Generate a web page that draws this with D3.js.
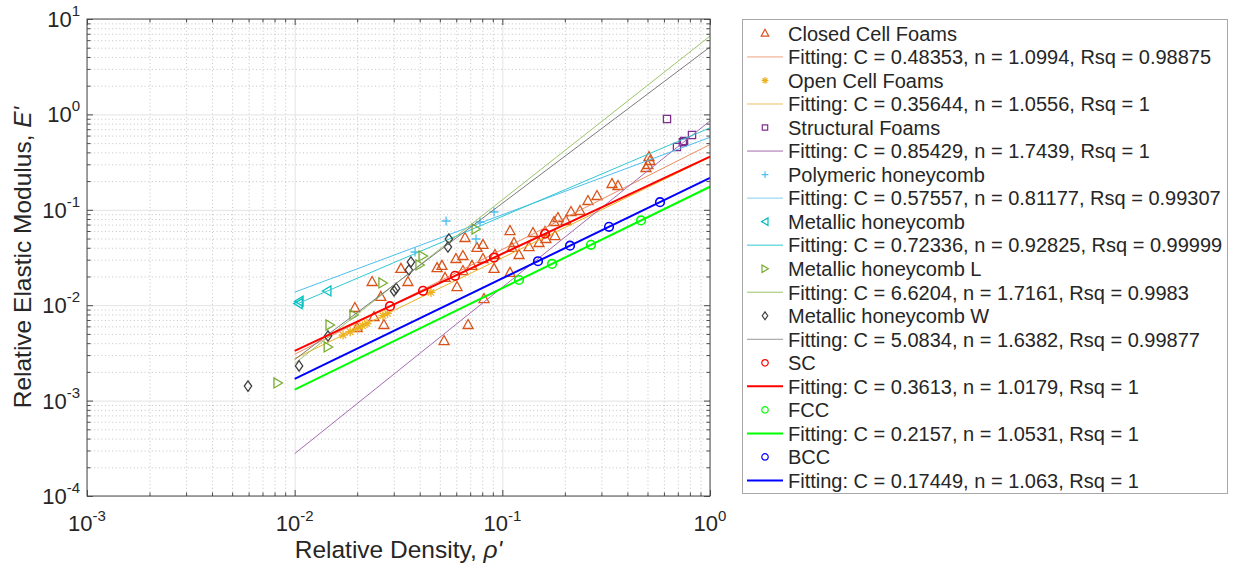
<!DOCTYPE html>
<html>
<head>
<meta charset="utf-8">
<script src="https://cdn.jsdelivr.net/npm/d3@7"></script>
<style>
  body { margin: 0; background: #fff; }
  text { font-family: "Liberation Sans", Arial, sans-serif; fill: #262626; }
</style>
</head>
<body>
<div id="chart"></div>
<script>
// ---- data (relative density, relative modulus) ----
const closedCell = [
  [0.0195,0.00935],[0.0200,0.00577],[0.0236,0.0175],[0.0241,0.00752],[0.0260,0.0122],
  [0.0269,0.0062],[0.0325,0.0240],[0.0351,0.0175],[0.0485,0.0245],[0.0512,0.0258],
  [0.0524,0.00421],[0.0530,0.0193],[0.0598,0.0305],[0.0605,0.0155],[0.0646,0.0328],
  [0.0646,0.0228],[0.0661,0.0506],[0.0684,0.0062],[0.0714,0.0258],[0.0755,0.0398],
  [0.0807,0.0428],[0.0807,0.0305],[0.0816,0.0116],[0.0912,0.0240],[0.0922,0.0336],
  [0.1089,0.0599],[0.1089,0.0218],[0.1113,0.0398],[0.1138,0.0449],[0.1203,0.0336],
  [0.1344,0.0407],[0.1405,0.0571],[0.1502,0.0449],[0.1605,0.0585],[0.1622,0.0494],
  [0.1793,0.0531],[0.1773,0.0745],[0.1853,0.0820],[0.2025,0.0763],[0.2141,0.0948],
  [0.2366,0.0971],[0.2585,0.1237],[0.2856,0.1395],[0.3374,0.1864],[0.3605,0.1776],
  [0.4916,0.2743],[0.5028,0.2948],[0.5140,0.3248],[0.5083,0.3576]
];
const openCell = [[0.0171,0.00486],[0.0185,0.00527],[0.0200,0.00572],[0.0212,0.0061],
  [0.0223,0.00643],[0.0266,0.00776],[0.0280,0.0082],[0.0453,0.01361]];
const structural = [[0.6207,0.8951],[0.6935,0.4552],[0.7400,0.5120],[0.7497,0.5262],[0.8190,0.6083]];
const polymeric = [[0.0380,0.0361],[0.0536,0.0763],[0.0747,0.0494],[0.0781,0.0745],[0.0912,0.0948]];
const metallic = [[0.0104,0.0104],[0.0105,0.0110],[0.0143,0.0141]];
const metallicL = [[0.00831,0.00153],[0.0145,0.00365],[0.0148,0.0062],[0.0193,0.0079],
  [0.0266,0.0171],[0.0401,0.0264],[0.0415,0.0328],[0.0747,0.0629]];
const metallicW = [[0.00596,0.00142],[0.0105,0.00231],[0.01447,0.00475],[0.0301,0.0141],
  [0.0308,0.0150],[0.0355,0.0234],[0.0363,0.0284],[0.0547,0.0407],[0.0553,0.0494]];
const sc = [[0.02877,0.00976],[0.0415,0.01416],[0.0592,0.0203],[0.0912,0.0316],[0.1605,0.0561]];
const fcc = [[0.1203,0.01837],[0.1734,0.0271],[0.2673,0.0429],[0.4654,0.0774]];
const bcc = [[0.1485,0.0289],[0.2118,0.0421],[0.3264,0.0663],[0.5743,0.1203]];

const seriesNames = ["Closed Cell Foams", "Open Cell Foams", "Structural Foams", "Polymeric honeycomb",
  "Metallic honeycomb", "Metallic honeycomb L", "Metallic honeycomb W", "SC", "FCC", "BCC"];
const seriesData = [closedCell, openCell, structural, polymeric, metallic, metallicL, metallicW, sc, fcc, bcc];
const markers = ["^", "*", "s", "+", "<", ">", "d", "o", "o", "o"];
const colors = ["#D95319", "#EDB120", "#7E2F8E", "#4DBEEE", "#00BFBF", "#77AC30", "#404040", "#FF0000", "#00FF00", "#0000FF"];

// power-law fits E = C * rho^n, drawn from rho = 0.01 to 1
const fitC = [0.48353, 0.35644, 0.85429, 0.57557, 0.72336, 6.6204, 5.0834, 0.3613, 0.2157, 0.17449];
const fitN = [1.0994, 1.0556, 1.7439, 0.81177, 0.92825, 1.7161, 1.6382, 1.0179, 1.0531, 1.063];
const fitRsq = [0.98875, 1, 1, 0.99307, 0.99999, 0.9983, 0.99877, 1, 1, 1];
const fitRange = [0.01, 1];
// in the original the FCC fit is drawn blue and the BCC fit green
const fitDrawColors = ["#EE8A60", "#EDB120", "#A46BB0", "#4DBEEE", "#30C8D0", "#9CC46A", "#7a7a7a", "#FF0000", "#0000FF", "#00FF00"];
const fitLegendColors = ["#F0A080", "#EDC060", "#A46BB0", "#80D0F0", "#30C8D0", "#9CC46A", "#9a9a9a", "#FF0000", "#00FF00", "#0000FF"];
const fitWidths = [1, 1, 1, 1, 1, 1, 1, 2, 2, 2];

const xTickExp = [-3, -2, -1, 0];
const yTickExp = [-4, -3, -2, -1, 0, 1];

// ---- layout ----
const width = 1234, height = 572;
const plot = {left: 87, top: 19, right: 710, bottom: 496};

const svg = d3.select("#chart").append("svg")
  .attr("width", width).attr("height", height);

const x = d3.scaleLog().domain([1e-3, 1]).range([plot.left, plot.right]);
const y = d3.scaleLog().domain([1e-4, 10]).range([plot.bottom, plot.top]);

const xMajor = xTickExp.map(e => Math.pow(10, e));
const yMajor = yTickExp.map(e => Math.pow(10, e));
function minors(majors) {
  const out = [];
  majors.slice(0, -1).forEach(m => { for (let k = 2; k <= 9; k++) out.push(m * k); });
  return out;
}
const xMinor = minors(xMajor), yMinor = minors(yMajor);
const pw = plot.right - plot.left, ph = plot.bottom - plot.top;

// grid
function grid(axis, pos, vals, size, cls) {
  const g = svg.append("g").attr("transform", pos)
    .call(axis.tickValues(vals).tickSize(size).tickFormat(""));
  g.select(".domain").remove();
  g.selectAll("line").attr("class", cls);
  return g;
}
grid(d3.axisBottom(x), `translate(0,${plot.bottom})`, xMinor, -ph, "minor");
grid(d3.axisLeft(y), `translate(${plot.left},0)`, yMinor, -pw, "minor");
grid(d3.axisBottom(x), `translate(0,${plot.bottom})`, xMajor, -ph, "major");
grid(d3.axisLeft(y), `translate(${plot.left},0)`, yMajor, -pw, "major");
svg.selectAll("line.minor").attr("stroke", "#bdbdbd").attr("stroke-dasharray", "1,2.6").attr("stroke-width", 0.9);
svg.selectAll("line.major").attr("stroke", "#e3e3e3").attr("stroke-width", 1);

// ---- markers ----
function markerPath(type, k) {
  const p = d3.path();
  switch (type) {
    case "^": p.moveTo(0, -5.5*k); p.lineTo(5*k, 3.5*k); p.lineTo(-5*k, 3.5*k); p.closePath(); break;
    case "<": p.moveTo(-4.5*k, 0); p.lineTo(4*k, -5*k); p.lineTo(4*k, 5*k); p.closePath(); break;
    case ">": p.moveTo(4.5*k, 0); p.lineTo(-4*k, -5*k); p.lineTo(-4*k, 5*k); p.closePath(); break;
    case "s": p.rect(-3.6*k, -3.6*k, 7.2*k, 7.2*k); break;
    case "d": p.moveTo(0, -5.2*k); p.lineTo(3.7*k, 0); p.lineTo(0, 5.2*k); p.lineTo(-3.7*k, 0); p.closePath(); break;
    case "+": p.moveTo(-4.5*k, 0); p.lineTo(4.5*k, 0); p.moveTo(0, -4.5*k); p.lineTo(0, 4.5*k); break;
    case "*":
      p.moveTo(-4.5*k, 0); p.lineTo(4.5*k, 0); p.moveTo(0, -4.5*k); p.lineTo(0, 4.5*k);
      p.moveTo(-3.2*k, -3.2*k); p.lineTo(3.2*k, 3.2*k); p.moveTo(-3.2*k, 3.2*k); p.lineTo(3.2*k, -3.2*k); break;
    case "o": p.arc(0, 0, 4.3*k, 0, 2 * Math.PI); break;
  }
  return p.toString();
}

const lineGen = d3.line().x(d => x(d[0])).y(d => y(d[1]));
const plotArea = svg.append("g");

seriesData.forEach((data, i) => {
  plotArea.append("g").selectAll("path")
    .data(data).enter().append("path")
    .attr("transform", d => `translate(${x(d[0])},${y(d[1])})`)
    .attr("d", markerPath(markers[i], 1))
    .attr("fill", "none")
    .attr("stroke", colors[i])
    .attr("stroke-width", markers[i] === "o" ? 1.6 : 1.3);

  const fitPts = fitRange.map(r => [r, fitC[i] * Math.pow(r, fitN[i])]);
  plotArea.append("path")
    .attr("d", lineGen(fitPts))
    .attr("fill", "none")
    .attr("stroke", fitDrawColors[i])
    .attr("stroke-width", fitWidths[i]);
});

// ---- axes (box with inward ticks) ----
function ticks(axis, pos, vals, size) {
  const g = svg.append("g").attr("transform", pos)
    .call(axis.tickValues(vals).tickSize(size).tickSizeOuter(0).tickFormat(""));
  g.select(".domain").remove();
  g.selectAll("line").attr("stroke", "#4a4a4a");
}
[[d3.axisBottom(x), `translate(0,${plot.bottom})`], [d3.axisTop(x), `translate(0,${plot.top})`]].forEach(([a, t]) => {
  ticks(a, t, xMajor, -6); ticks(a, t, xMinor, -3.5);
});
[[d3.axisLeft(y), `translate(${plot.left},0)`], [d3.axisRight(y), `translate(${plot.right},0)`]].forEach(([a, t]) => {
  ticks(a, t, yMajor, -6); ticks(a, t, yMinor, -3.5);
});
svg.append("rect")
  .attr("x", plot.left).attr("y", plot.top).attr("width", pw).attr("height", ph)
  .attr("fill", "none").attr("stroke", "#4a4a4a").attr("stroke-width", 1);

// tick labels 10^e
const xl = svg.append("g").selectAll("text").data(xTickExp).enter().append("text")
  .attr("x", d => x(Math.pow(10, d))).attr("y", plot.bottom + 35)
  .attr("text-anchor", "middle").attr("font-size", 22);
xl.append("tspan").text("10");
xl.append("tspan").attr("font-size", 15).attr("dy", -10).text(d => d);

const yl = svg.append("g").selectAll("text").data(yTickExp).enter().append("text")
  .attr("x", plot.left - 7).attr("y", d => y(Math.pow(10, d)) + 8)
  .attr("text-anchor", "end").attr("font-size", 22);
yl.append("tspan").text("10");
yl.append("tspan").attr("font-size", 15).attr("dy", -11).text(d => d);

// axis titles
const xt = svg.append("text").attr("x", (plot.left + plot.right) / 2).attr("y", 558)
  .attr("text-anchor", "middle").attr("font-size", 24.5);
xt.append("tspan").text("Relative Density, ");
xt.append("tspan").attr("font-style", "italic").text("\u03C1'");

const yt = svg.append("text")
  .attr("transform", `translate(31,${(plot.top + plot.bottom) / 2}) rotate(-90)`)
  .attr("text-anchor", "middle").attr("font-size", 24.5);
yt.append("tspan").text("Relative Elastic Modulus, ");
yt.append("tspan").attr("font-style", "italic").text("E'");

// ---- legend ----
const legend = svg.append("g");
legend.append("rect")
  .attr("x", 742.5).attr("y", 19.5).attr("width", 485).attr("height", 474)
  .attr("fill", "#fff").attr("stroke", "#a8a8a8");
const rowY = i => 33.4 + i * 23.53;
seriesNames.forEach((name, i) => {
  const r1 = rowY(2 * i), r2 = rowY(2 * i + 1);
  legend.append("path")
    .attr("transform", `translate(765,${r1})`)
    .attr("d", markerPath(markers[i], 0.75))
    .attr("fill", "none").attr("stroke", colors[i]).attr("stroke-width", 1.2);
  legend.append("text").attr("x", 788).attr("y", r1 + 7.3).attr("font-size", 20).text(name);
  legend.append("line")
    .attr("x1", 747).attr("x2", 783).attr("y1", r2).attr("y2", r2)
    .attr("stroke", fitLegendColors[i]).attr("stroke-width", fitWidths[i]);
  legend.append("text").attr("x", 788).attr("y", r2 + 7.3).attr("font-size", 20)
    .text(`Fitting: C = ${fitC[i]}, n = ${fitN[i]}, Rsq = ${fitRsq[i]}`);
});
</script>
</body>
</html>
